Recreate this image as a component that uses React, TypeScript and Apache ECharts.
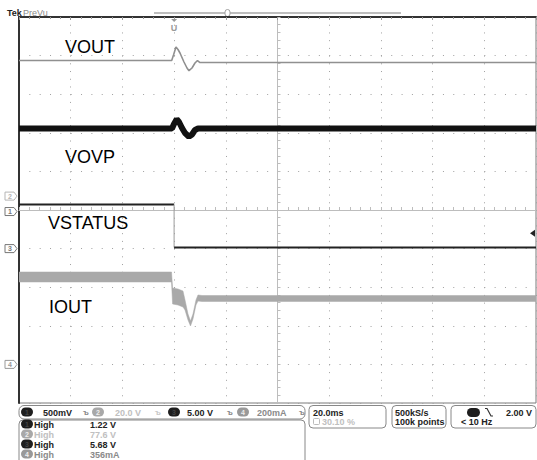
import React, { useEffect, useRef } from 'react';
import * as echarts from 'echarts';

// Horizontal axis: time in ms (20 ms/div, trigger at 0), vertical axis: screen divisions
const TIME_MIN = -60;
const TIME_MAX = 140;
const TIME_PER_DIV = 20;
const DIV_MIN = -5;
const DIV_MAX = 5;

// VOUT trace (ch1)
const voutTime = [-60, -0.93, -0.23, 0.73, 1.51, 2.28, 3.82, 4.99, 5.76, 6.92, 8.08, 9.05, 10.02, 140];
const voutDiv = [3.873, 3.873, 4.016, 4.223, 4.158, 4.067, 3.834, 3.679, 3.609, 3.679, 3.808, 3.873, 3.821, 3.821];

// VOVP trace (ch3)
const vovpTime = [-60, -0.81, -0.04, 1.01, 1.9, 3.06, 4.22, 5.76, 6.92, 8.08, 9.24, 140];
const vovpDiv = [2.111, 2.111, 2.228, 2.35, 2.28, 2.124, 1.995, 1.899, 1.956, 2.073, 2.111, 2.111];

// VSTATUS trace (step at trigger)
const vstatusTime = [-60, 0, 0, 140];
const vstatusDiv = [0.14, 0.14, -0.97, -0.97];

// IOUT trace (ch4) as upper / lower envelope of the noisy band
const ioutTime = [-60, -1.0, -0.58, 1.51, 3.44, 4.22, 5.38, 6.34, 7.31, 8.47, 9.24, 10.79, 140];
const ioutUpper = [-1.606, -1.606, -2.021, -2.047, -2.098, -2.332, -2.694, -2.876, -2.694, -2.332, -2.202, -2.215, -2.215];
const ioutLower = [-1.865, -1.865, -2.435, -2.461, -2.513, -2.591, -2.85, -3.005, -2.824, -2.461, -2.358, -2.37, -2.37];

// channel ground markers on the left edge
const markerLabels = ['2', '1', '3', '4'];
const markerDiv = [0.36, -0.04, -1.0, -4.0];
const triggerTime = 0;
const triggerLevelDiv = -0.6;

// trace labels
const traceLabels = ['VOUT', 'VOVP', 'VSTATUS', 'IOUT'];

// status bar texts
const chScaleTexts = ['500mV', '20.0 V', '5.00 V', '200mA'];
const measNames = ['High', 'High', 'High', 'High'];
const measValues = ['1.22 V', '77.6 V', '5.68 V', '356mA'];
const timebaseTexts = ['20.0ms', '30.10 %'];
const acqTexts = ['500kS/s', '100k points'];
const trigTexts = ['2.00 V', '< 10 Hz'];

const FONT = '"Liberation Sans", Arial, sans-serif';

function zip(t: number[], v: number[]) {
  return t.map((x, i) => [x, v[i]]);
}

export default function App() {
  const ref = useRef<HTMLDivElement>(null);

  useEffect(() => {
    const el = ref.current!;
    const chart = echarts.init(el, null, { renderer: 'svg' });

    const tickGray = '#bdbdbd';
    const option: any = {
      animation: false,
      backgroundColor: '#fff',
      grid: {
        left: 19, top: 17, width: 517, height: 386,
        show: true, borderColor: '#7a7a7a', borderWidth: 1, backgroundColor: '#fff',
        outerBoundsMode: 'none',
      },
      xAxis: [
        {
          type: 'value', min: TIME_MIN, max: TIME_MAX, interval: TIME_PER_DIV,
          axisLine: { show: true, onZero: true, lineStyle: { color: tickGray, width: 1 } },
          axisTick: { show: true, inside: true, length: 3, lineStyle: { color: tickGray } },
          minorTick: { show: true, splitNumber: 5, length: 3, lineStyle: { color: tickGray } },
          axisLabel: { show: false },
          splitLine: { show: true, lineStyle: { color: '#a0a0a0', width: 1, type: [1, 6.72] } },
        },
        {
          type: 'value', min: -100, max: 100, interval: 20, position: 'top',
          axisLine: { show: true, onZero: false, lineStyle: { color: '#333', width: 2 } },
          axisTick: { show: true, inside: true, length: 3, lineStyle: { color: '#999' } },
          minorTick: { show: true, splitNumber: 5, length: 2, lineStyle: { color: '#999' } },
          axisLabel: { show: false },
          splitLine: { show: false },
        },
      ],
      yAxis: [
        {
          type: 'value', min: DIV_MIN, max: DIV_MAX, interval: 1,
          axisLine: { show: true, onZero: true, onZeroAxisIndex: 1, lineStyle: { color: tickGray, width: 1 } },
          axisTick: { show: true, inside: true, length: 3, lineStyle: { color: tickGray } },
          minorTick: { show: true, splitNumber: 5, length: 3, lineStyle: { color: tickGray } },
          axisLabel: { show: false },
          splitLine: { show: true, lineStyle: { color: '#a0a0a0', width: 1, type: [1, 9.34] } },
        },
        {
          type: 'value', min: DIV_MIN, max: DIV_MAX, interval: 1, position: 'left',
          axisLine: { show: true, onZero: false, lineStyle: { color: '#333', width: 2 } },
          axisTick: { show: false }, axisLabel: { show: false }, splitLine: { show: false },
        },
      ],
      series: [
        {
          type: 'custom', name: 'IOUT', xAxisIndex: 0, yAxisIndex: 0, data: [[0, 0]], silent: true, clip: true,
          renderItem: (_p: any, api: any) => {
            const pts: number[][] = [];
            for (let i = 0; i < ioutTime.length; i++) pts.push(api.coord([ioutTime[i], ioutUpper[i]]));
            for (let i = ioutTime.length - 1; i >= 0; i--) pts.push(api.coord([ioutTime[i], ioutLower[i]]));
            return { type: 'polygon', shape: { points: pts }, style: { fill: '#a9a9a9', stroke: '#a9a9a9', lineWidth: 0.5 } };
          },
        },
        {
          type: 'line', name: 'VOUT', data: zip(voutTime, voutDiv), symbol: 'none', silent: true,
          lineStyle: { color: '#909090', width: 1.6 },
        },
        {
          type: 'line', name: 'VOVP', data: zip(vovpTime, vovpDiv), symbol: 'none', silent: true,
          lineStyle: { color: '#111', width: 6 },
        },
        {
          type: 'line', name: 'VSTATUS', data: zip(vstatusTime.slice(0, 2), vstatusDiv.slice(0, 2)), symbol: 'none', silent: true,
          lineStyle: { color: '#222', width: 2 },
        },
        {
          type: 'line', name: 'VSTATUS edge', data: zip(vstatusTime.slice(1, 3), vstatusDiv.slice(1, 3)), symbol: 'none', silent: true,
          lineStyle: { color: '#9a9a9a', width: 1 },
        },
        {
          type: 'line', name: 'VSTATUS low', data: zip(vstatusTime.slice(2, 4), vstatusDiv.slice(2, 4)), symbol: 'none', silent: true,
          lineStyle: { color: '#222', width: 2 },
        },
      ],
    };
    chart.setOption(option);

    const g: any[] = [];
    const T = (x: number, y: number, text: string, fill: string, extra: any = {}) =>
      g.push({ type: 'text', x, y, silent: true, style: { text, fill, font: `bold 9px ${FONT}`, verticalAlign: 'middle', align: 'left', ...extra } });
    const R = (x: number, y: number, w: number, h: number, r: number, stroke: string, fill = 'none', lw = 1) =>
      g.push({ type: 'rect', silent: true, shape: { x, y, width: w, height: h, r }, style: { stroke, fill, lineWidth: lw } });
    const badge = (x: number, y: number, label: string, fill: string, tc: string) => {
      R(x, y - 4.5, 12, 9, 4.5, 'none', fill);
      T(x + 6, y, label, tc, { align: 'center', font: `bold 7px ${FONT}` });
    };

    // header
    T(7, 13, 'Tek', '#222', { font: `bold 9px ${FONT}` });
    T(23, 13, 'PreVu', '#8a8a8a', { font: `9px ${FONT}` });
    g.push({ type: 'line', silent: true, shape: { x1: 154, y1: 13, x2: 401, y2: 13 }, style: { stroke: '#a8a8a8', lineWidth: 1.5 } });
    R(225, 9.5, 5, 7, 2.5, '#a0a0a0', '#fff', 1);

    // trigger position marker
    const tx = chart.convertToPixel({ xAxisIndex: 0 }, triggerTime) as number;
    g.push({ type: 'polygon', silent: true, shape: { points: [[tx - 3, 19], [tx + 3, 19], [tx, 22]] }, style: { fill: '#999' } });
    T(tx, 27.5, 'U', '#999', { align: 'center', font: `bold 9px ${FONT}` });

    // trigger level marker
    const ty = chart.convertToPixel({ yAxisIndex: 0 }, triggerLevelDiv) as number;
    g.push({ type: 'polygon', silent: true, shape: { points: [[530, ty], [535, ty - 3.5], [535, ty + 3.5]] }, style: { fill: '#222' } });

    // channel markers
    const markerStroke = ['#b5b5b5', '#777', '#777', '#999'];
    markerLabels.forEach((lab, i) => {
      const y = chart.convertToPixel({ yAxisIndex: 0 }, markerDiv[i]) as number;
      g.push({ type: 'polygon', silent: true, shape: { points: [[5, y - 4], [14, y - 4], [17, y], [14, y + 4], [5, y + 4]] }, style: { fill: '#fff', stroke: markerStroke[i], lineWidth: 1 } });
      T(10, y, lab, markerStroke[i], { align: 'center', font: `bold 7px ${FONT}` });
    });

    // trace labels
    const labelPos = [[65, 47], [65, 157], [48, 223], [49, 307]];
    traceLabels.forEach((t, i) => {
      g.push({ type: 'text', silent: true, x: labelPos[i][0], y: labelPos[i][1], style: { text: t, fill: '#000', font: `18px ${FONT}`, verticalAlign: 'middle', align: 'left' } });
    });

    // status bar: channel row
    R(19, 405.5, 286, 13.5, 5, '#888');
    const dark = '#222';
    const chFill = ['#1e1e1e', '#a8a8a8', '#1e1e1e', '#999'];
    const chText = [dark, '#c0c0c0', dark, '#8a8a8a'];
    const badgeX = [21, 92, 168, 237];
    const textX = [43, 115, 187, 257];
    const symX = [83, 155, 227, 299];
    chScaleTexts.forEach((t, i) => {
      badge(badgeX[i], 412, String(i + 1), chFill[i], i === 1 || i === 3 ? '#eee' : '#444');
      T(textX[i], 412.5, t, chText[i]);
      T(symX[i], 412.5, 'ъ', i === 1 ? '#c8c8c8' : '#888', { font: `bold 8px ${FONT}` });
    });

    // measurement box
    R(19, 420, 286, 50, 4, '#888');
    const measY = [424, 434, 444, 454];
    measNames.forEach((t, i) => {
      badge(21, measY[i], String(i + 1), chFill[i], i === 1 || i === 3 ? '#eee' : '#444');
      T(34, measY[i] + 0.5, t, chText[i]);
      T(90, measY[i] + 0.5, measValues[i], chText[i]);
    });

    // timebase box
    R(309, 405.5, 77, 22.5, 4, '#888');
    T(313, 412.5, timebaseTexts[0], dark);
    R(313.5, 418.5, 6, 6, 1, '#bbb');
    T(322, 421.5, timebaseTexts[1], '#c0c0c0');

    // acquisition box
    R(392, 405.5, 54, 22.5, 4, '#888');
    T(395, 412.5, acqTexts[0], dark);
    T(395, 421.5, acqTexts[1], dark);

    // trigger box
    R(451, 405.5, 85, 22.5, 4, '#888');
    R(467, 408, 13, 9, 4.5, 'none', '#1e1e1e');
    g.push({ type: 'polyline', silent: true, shape: { points: [[485, 408.5], [487, 408.5], [491, 416], [493, 416]] }, style: { stroke: '#333', lineWidth: 1.2, fill: 'none' } });
    T(532, 412.5, trigTexts[0], dark, { align: 'right' });
    T(461, 421.5, trigTexts[1], dark);

    chart.setOption({ graphic: g });

    return () => chart.dispose();
  }, []);

  return <div ref={ref} style={{ position: 'absolute', left: 0, top: 0, width: 537, height: 460 }} />;
}
